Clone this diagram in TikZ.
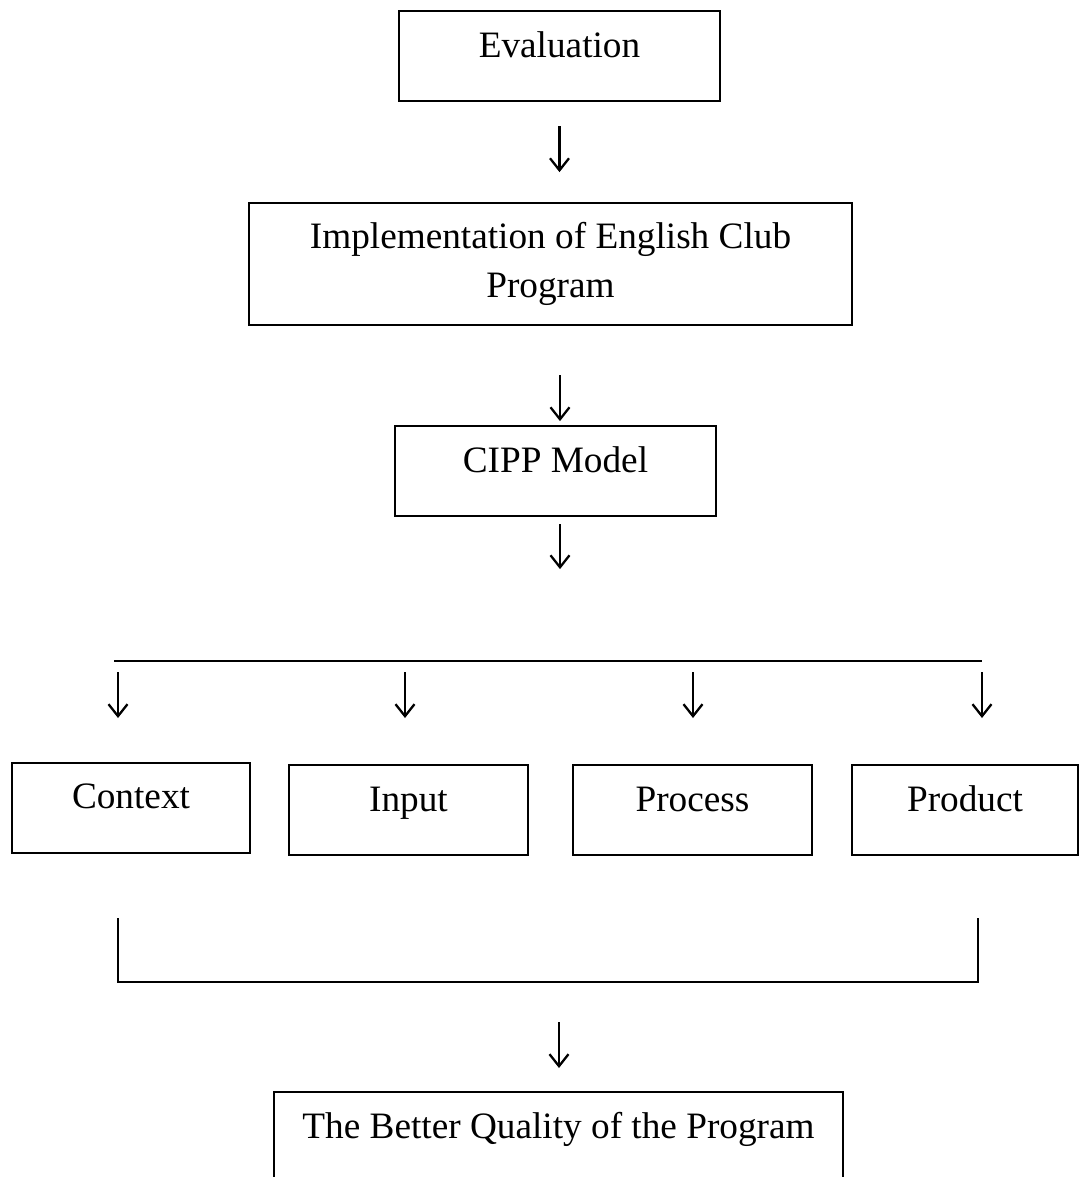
\documentclass[tikz,border=0pt]{standalone}
\usepackage{fontspec}
\setmainfont{Liberation Serif}
\usetikzlibrary{arrows.meta}

\begin{document}
\begin{tikzpicture}[line width=1.2pt,
    frame/.style={draw, anchor=north, inner sep=0pt, font=\fontsize{21.2}{28}\selectfont},
    box/.style={frame, text height=0.93cm, text depth=0.87cm},
    down/.style={-{Straight Barb[length=0.24cm,width=0.38cm]}, line width=1.3pt}]
    \useasboundingbox (0,0) rectangle (21.6,-23.54);
    \clip (0,0) rectangle (21.6,-23.54);
    % main column
    \node[box, minimum width=6.42cm] (eval) at (11.19,-0.2) {Evaluation};
    \node[frame, align=center, minimum width=12.06cm, minimum height=2.44cm] (impl) at (11.01,-4.04) {Implementation of English Club\\Program};
    \node[box, minimum width=6.42cm] (cipp) at (11.11,-8.5) {CIPP Model};
    \draw[down] ([yshift=-0.48cm]eval.south) -- ++(0,-0.92);
    \draw[down] ([xshift=0.19cm,yshift=-0.98cm]impl.south) -- ++(0,-0.92);
    \draw[down] ([xshift=0.09cm,yshift=-0.14cm]cipp.south) -- ++(0,-0.9);
    % the four parts
    \coordinate (barL) at (2.28,-13.22);
    \coordinate (barR) at (19.64,-13.22);
    \draw (barL) -- (barR);
    \foreach \x in {2.36,8.1,13.86,19.64}
        \draw[down] (\x,-13.44) -- ++(0,-0.92);
    \node[box, minimum width=4.76cm, text height=0.9cm, text depth=0.9cm] (context) at (2.62,-15.24) {Context};
    \node[box, minimum width=4.78cm] (input) at (8.17,-15.28) {Input};
    \node[box, minimum width=4.78cm] (process) at (13.85,-15.28) {Process};
    \node[box, minimum width=4.52cm] (product) at (19.3,-15.28) {Product};
    % bracket and result
    \coordinate (brL) at (2.36,-18.36);
    \coordinate (brR) at (19.56,-18.36);
    \draw (brL) |- (brR |- 0,-19.64) -- (brR);
    \draw[down] (11.18,-20.44) -- ++(0,-0.92);
    \node[box, minimum width=11.38cm, text height=0.92cm] (result) at (11.17,-21.82) {The Better Quality of the Program};
\end{tikzpicture}
\end{document}
